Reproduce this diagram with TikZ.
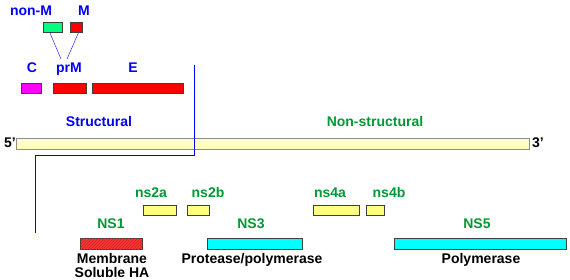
\documentclass[tikz,border=0pt]{standalone}
\usepackage{fontspec}
\setmainfont{Liberation Sans}
\usetikzlibrary{positioning,patterns}
\usepackage{xcolor}
\definecolor{labblue}{HTML}{0000FF}
\definecolor{labgreen}{HTML}{009933}
\definecolor{protred}{HTML}{FF0000}
\definecolor{hatchred}{HTML}{FF3333}
\definecolor{protpink}{HTML}{FF00FF}
\definecolor{protmint}{HTML}{00FF80}
\definecolor{protcyan}{HTML}{00FFFF}
\definecolor{protyellow}{HTML}{FFFF80}
\definecolor{genome}{HTML}{FFFFC4}

\begin{document}
\begin{tikzpicture}[
  x=1pt,y=-1pt,
  font=\fontsize{14}{16}\selectfont\bfseries,
  lab/.style={anchor=base,inner sep=0pt},
  slab/.style={lab,text=labblue},
  nlab/.style={lab,text=labgreen},
  klab/.style={lab,text=black},
  prot/.style={draw=black!75,anchor=north west,inner sep=0pt,
    minimum height=10,line width=0.8pt},
  link/.style={draw=labblue,thin},
  sep/.style={draw=labblue,line width=1pt},
]
\useasboundingbox (0,0) rectangle (570,280);
% structural proteins
\node[prot,fill=protmint,minimum width=19] (nonm) at (43,22) {};
\node[prot,fill=protred,minimum width=12]  (m)    at (70,22) {};
\node[slab] (nonmlab) at (31,16) {non-M};
\node[slab] (mlab)    at (84,16) {M};
\node[slab] (clab)    at (32,73) {C};
\node[slab] (prmlab)  at (69,73) {prM};
\node[slab] (elab)    at (133,73) {E};
\node[prot,fill=protpink,minimum width=20] (c)   at (21,83) {};
\node[prot,fill=protred,minimum width=33]  (prm) at (53,83) {};
\node[prot,fill=protred,minimum width=91]  (e)   at (92,83) {};
\draw[link] ([xshift=-3]nonm.south) -- (61,59);
\draw[link] ([xshift=2]m.south) -- (67,59);
% genome
\node[slab] (strlab) at (99,127) {Structural};
\node[nlab] (nstrlab) at (375,127) {Non-structural};
\node[prot,draw=black!45,fill=genome,minimum width=513,minimum height=11] (rna) at (16,138) {};
\node[klab] (five)  at (10,148) {5'};
\node[klab] (three) at (538,148) {3'};
% separator
\coordinate (septop) at (194,65);
\coordinate (sepmid) at (194,156);
\coordinate (seplow) at (35,156);
\coordinate (sepbot) at (35,233);
\draw[sep] (septop) -- (sepmid) -- (seplow) -- (sepbot);
% non-structural proteins
\node[nlab] (ns2alab) at (151,198) {ns2a};
\node[nlab] (ns2blab) at (208,198) {ns2b};
\node[nlab] (ns4alab) at (330,198) {ns4a};
\node[nlab] (ns4blab) at (389,198) {ns4b};
\node[prot,fill=protyellow,minimum width=33] (ns2a) at (143,205) {};
\node[prot,fill=protyellow,minimum width=22] (ns2b) at (187,205) {};
\node[prot,fill=protyellow,minimum width=46] (ns4a) at (313,205) {};
\node[prot,fill=protyellow,minimum width=18] (ns4b) at (366,205) {};
\node[nlab] (ns1lab) at (111,229) {NS1};
\node[nlab] (ns3lab) at (251,229) {NS3};
\node[nlab] (ns5lab) at (477,229) {NS5};
\node[prot,fill=hatchred,minimum width=62,minimum height=11,
  postaction={pattern=north east lines,pattern color=hatchred!80!black}] (ns1) at (80,238) {};
\node[prot,fill=protcyan,minimum width=95,minimum height=11] (ns3) at (207,238) {};
\node[prot,fill=protcyan,minimum width=172,minimum height=11] (ns5) at (394,238) {};
\node[klab] (memb)  at (112,264) {Membrane};
\node[klab] (solha) at (112,277) {Soluble HA};
\node[klab] (prot3) at (252,264) {Protease/polymerase};
\node[klab] (pol5)  at (481,264) {Polymerase};
\end{tikzpicture}
\end{document}
